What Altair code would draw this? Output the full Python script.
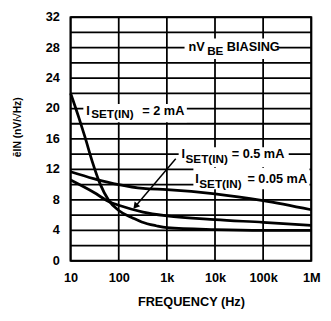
import altair as alt
import pandas as pd

FONT = "Liberation Sans"

# ---- data ----
freq_2ma = [10, 15, 20, 28, 41, 61, 100, 200, 300, 600, 1000, 10000, 100000, 1000000]
en_2ma = [22, 18.7, 16.2, 13.1, 10.1, 8.0, 6.6, 5.6, 5.1, 4.6, 4.35, 4.1, 4.0, 4.0]

freq_05ma = [10, 30, 66, 100, 320, 1000, 10000, 100000, 1000000]
en_05ma = [10.6, 9.0, 7.7, 7.3, 6.4, 5.9, 5.4, 5.05, 4.65]

freq_005ma = [10, 30, 100, 320, 1000, 10000, 100000, 1000000]
en_005ma = [11.7, 10.8, 10.0, 9.5, 9.35, 8.8, 7.9, 6.7]

x_ticks = [10, 100, 1000, 10000, 100000, 1000000]
y_ticks = [0, 4, 8, 12, 16, 20, 24, 28, 32]
y_tick_labels = ["0", "4", "8", "12", "16", "20", "24", "28", "32"]
y_grid = list(range(0, 33, 2))

rows = []
for name, fs, vs in [("2 mA", freq_2ma, en_2ma), ("0.5 mA", freq_05ma, en_05ma),
                     ("0.05 mA", freq_005ma, en_005ma)]:
    for f, v in zip(fs, vs):
        rows.append({"series": name, "f": f, "v": v})
curves = pd.DataFrame(rows)

# annotation texts (data coordinates)
main_txt = pd.DataFrame({
    "t": ["nV", "BIASING", "I", "= 2 mA", "I", "= 0.5 mA", "I", "= 0.05 mA"],
    "f": [2812, 17580, 21.2, 309, 2023, 22230, 3908, 47100],
    "v": [27.6, 27.6, 19.2, 19.2, 13.5, 13.5, 10.2, 10.2],
})
sub_txt = pd.DataFrame({
    "t": ["BE", "SET(IN)", "SET(IN)", "SET(IN)"],
    "f": [6872, 26.8, 2443, 4711],
    "v": [27.0, 18.7, 12.9, 9.5],
})
boxes = pd.DataFrame({
    "f1": [2330, 18.4, 1758, 3556],
    "f2": [210000, 2600, 340000, 920000],
    "v1": [26.5, 18.2, 12.3, 9.4],
    "v2": [29.2, 20.6, 14.9, 12.2],
})
arrow = pd.DataFrame({"f1": [1528], "v1": [13.4], "f2": [225], "v2": [7.2]})
arrow_head = pd.DataFrame({"f": [222], "v": [7.15]})

xscale = alt.Scale(type="log", domain=[10, 1000000], nice=False)
yscale = alt.Scale(domain=[0, 32], nice=False)

x_axis = alt.Axis(
    values=x_ticks, title="FREQUENCY (Hz)",
    labelExpr="datum.value >= 1000000 ? '1M' : datum.value >= 1000 ? format(datum.value/1000, 'd') + 'k' : format(datum.value, 'd')",
    grid=False, ticks=False, domain=False, labelPadding=11, titlePadding=12,
    labelFont=FONT, labelFontSize=13, labelFontWeight="bold", labelColor="black",
    titleFont=FONT, titleFontSize=13, titleFontWeight="bold", titleColor="black",
    labelFlush=False, labelOverlap=False,
)
y_axis = alt.Axis(
    values=y_ticks, title="ēIN (nV/√Hz)", labels=False,
    grid=False, ticks=False, domain=False,
    titleFont=FONT, titleFontSize=10.5, titleFontWeight="bold", titleColor="black",
    titleX=-51, titleY=112, titleAlign="center", titleBaseline="alphabetic", titleAngle=270,
)

hgrid_df = pd.DataFrame({"g": y_grid, "a": [x_ticks[0]] * len(y_grid), "b": [x_ticks[-1]] * len(y_grid)})
vgrid_df = pd.DataFrame({"g": x_ticks, "a": [y_ticks[0]] * len(x_ticks), "b": [y_ticks[-1]] * len(x_ticks)})

hgrid = alt.Chart(hgrid_df).mark_rule(color="#000000", strokeWidth=1.8, strokeCap="butt").encode(
    y=alt.Y("g:Q", scale=yscale, axis=y_axis),
    x=alt.X("a:Q", scale=xscale, axis=x_axis), x2="b:Q",
)
vgrid = alt.Chart(vgrid_df).mark_rule(color="#000000", strokeWidth=1.8, strokeCap="butt").encode(
    x=alt.X("g:Q", scale=xscale),
    y=alt.Y("a:Q", scale=yscale), y2="b:Q",
)

ylabels = alt.Chart(pd.DataFrame({"v": y_ticks, "t": y_tick_labels})).mark_text(
    font=FONT, fontSize=13, fontWeight="bold", align="right", baseline="middle", color="black"
).encode(x=alt.value(-11), y=alt.Y("v:Q", scale=yscale), text="t:N")

box_layer = alt.Chart(boxes).mark_rect(color="#ffffff", opacity=1).encode(
    x=alt.X("f1:Q", scale=xscale), x2="f2:Q",
    y=alt.Y("v1:Q", scale=yscale), y2="v2:Q",
)

base_lines = alt.Chart(curves).mark_line(
    color="black", strokeWidth=2.8, interpolate="monotone"
).encode(
    x=alt.X("f:Q", scale=xscale),
    y=alt.Y("v:Q", scale=yscale),
    detail="series:N",
)

arrow_layer = alt.Chart(arrow).mark_rule(color="black", strokeWidth=1.5).encode(
    x=alt.X("f1:Q", scale=xscale), x2="f2:Q",
    y=alt.Y("v1:Q", scale=yscale), y2="v2:Q",
)
head_layer = alt.Chart(arrow_head).mark_point(
    shape="triangle-up", filled=True, color="black", size=55, angle=220, opacity=1
).encode(
    x=alt.X("f:Q", scale=xscale), y=alt.Y("v:Q", scale=yscale),
)

main_layer = alt.Chart(main_txt).mark_text(
    font=FONT, fontSize=13, fontWeight="bold", align="left", baseline="alphabetic", color="black"
).encode(x=alt.X("f:Q", scale=xscale), y=alt.Y("v:Q", scale=yscale), text="t:N")

sub_layer = alt.Chart(sub_txt).mark_text(
    font=FONT, fontSize=12, fontWeight="bold", align="left", baseline="alphabetic", color="black"
).encode(x=alt.X("f:Q", scale=xscale), y=alt.Y("v:Q", scale=yscale), text="t:N")

chart = alt.layer(
    hgrid, vgrid, ylabels, box_layer, base_lines, arrow_layer, head_layer, main_layer, sub_layer
).properties(
    width=246, height=249,
    autosize=alt.AutoSizeParams(type="none"),
    padding={"left": 64, "top": 6, "right": 12, "bottom": 50},
).configure_view(
    stroke="black", strokeWidth=2
).configure_axis(
    grid=False
)

chart.save("out.html", embed_options={"renderer": "svg", "actions": False})
